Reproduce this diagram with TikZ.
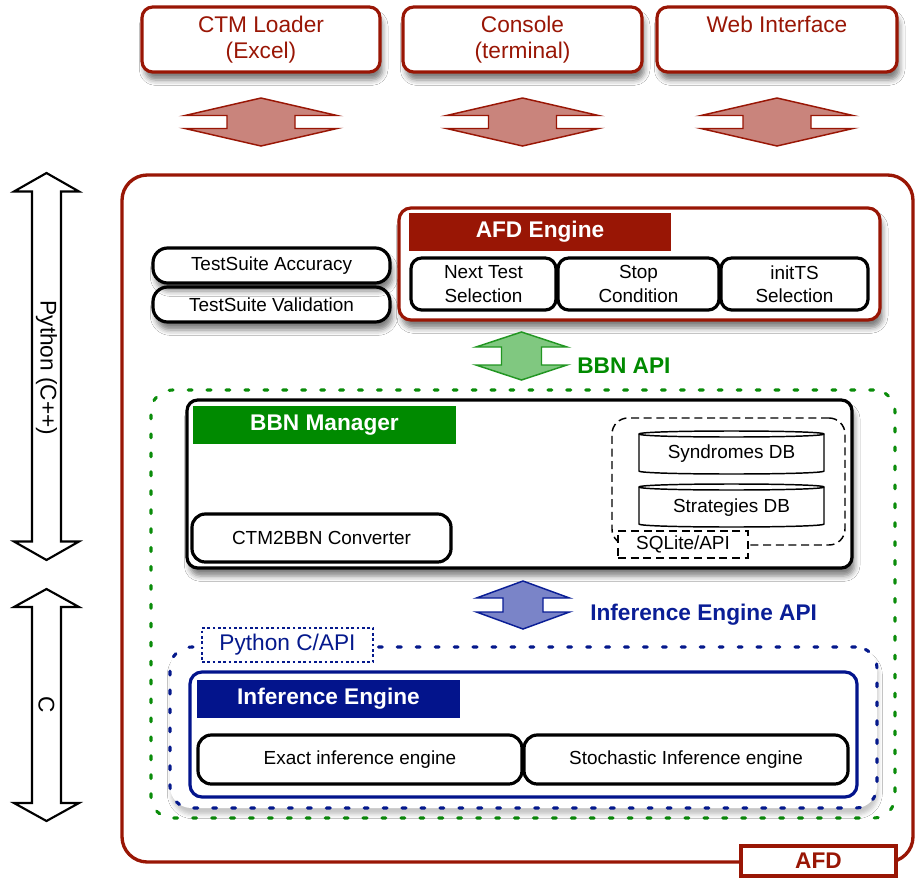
\documentclass[tikz,border=0pt]{standalone}
\usepackage{fontspec}
\setmainfont{Liberation Sans}
\usetikzlibrary{shadows.blur}

\definecolor{afdred}{RGB}{153,22,5}
\definecolor{redfill}{RGB}{201,132,124}
\definecolor{bbngreen}{RGB}{0,138,0}
\definecolor{greenfill}{RGB}{128,200,128}
\definecolor{greenline}{RGB}{34,150,34}
\definecolor{dotgreen}{RGB}{10,140,10}
\definecolor{ieblue}{RGB}{3,20,140}
\definecolor{ieapi}{RGB}{10,30,150}
\definecolor{bluefill}{RGB}{122,132,200}
\definecolor{dotblue}{RGB}{5,25,140}

\newcommand\bigtxt{\fontsize{17}{20}\selectfont}
\newcommand\smalltxt{\fontsize{14.2}{17.5}\selectfont}
% vertical double arrow: [style]{centre}{head half width}{shaft half width}{tip}{head base}
\newcommand\vdarrow[6][]{\draw[#1,shift={(#2)}] (0,-#5) -- (#3,-#6) -- (#4,-#6) -- (#4,#6) -- (#3,#6) -- (0,#5) -- (-#3,#6) -- (-#4,#6) -- (-#4,-#6) -- (-#3,-#6) -- cycle;}
% box node spanning two corners: [style]{name}{x1}{y1}{x2}{y2}{text}
\newcommand\blk[7][]{%
  \pgfmathsetmacro\blkcx{(#3+#5)/2}%
  \pgfmathsetmacro\blkcy{(#4+#6)/2}%
  \node[inner sep=0pt, #1, minimum width={(#5-#3)*0.75pt}, minimum height={(#6-#4)*0.75pt}] (#2) at (\blkcx,\blkcy) {#7};}

\begin{document}
\begin{tikzpicture}[x=0.75pt,y=-0.75pt,
  shadowed/.style={blur shadow={shadow xshift=2pt, shadow yshift=-6pt, shadow blur radius=4pt, shadow opacity=50}},
  softshadow/.style={blur shadow={shadow xshift=1pt, shadow yshift=-5pt, shadow blur radius=3pt, shadow opacity=22}},
  box/.style={draw, line width=2.4pt, fill=white, rounded corners=8pt, align=center},
  topbox/.style={box, draw=afdred, text=afdred, font=\bigtxt, shadowed},
  blackbox/.style={box, draw=black, font=\smalltxt},
  header/.style={fill=#1, text=white, font=\bigtxt\bfseries},
  apilabel/.style={anchor=west, font=\bigtxt\bfseries, inner sep=0pt},
  dotframe/.style={draw=#1, line width=2.3pt, line cap=round, dash pattern=on 3pt off 11.2pt, rounded corners=16pt},
  dashframe/.style={draw, line width=1.1pt, dash pattern=on 6pt off 3.5pt},
  apiarrow/.style={line width=1.1pt},
  sidearrow/.style={draw=black, fill=white, line width=1.6pt}]

\path[fill=white] (0,0) rectangle (915,879);
\useasboundingbox (0,0) rectangle (915,879);

% outer AFD frame
\blk[draw=afdred, line width=2.5pt, rounded corners=19pt]{afd}{122}{175}{913}{862}{}

% front ends
\blk[topbox]{ctm}{142}{7}{380}{72}{CTM Loader\\(Excel)}
\blk[topbox]{console}{403}{7}{642}{72}{Console\\(terminal)}
\blk[topbox]{web}{657}{7}{897}{72}{Web Interface\\\phantom{(Excel)}}
\vdarrow[apiarrow, draw=afdred, fill=redfill]{261,122}{76}{34}{24}{6.5}
\vdarrow[apiarrow, draw=afdred, fill=redfill]{522.5,122}{76}{34}{24}{6.5}
\vdarrow[apiarrow, draw=afdred, fill=redfill]{777,122}{76}{34}{24}{6.5}

% language layers
\vdarrow[sidearrow]{46.5,366.5}{32.5}{14.5}{193.5}{175}
\node[rotate=-90, font=\bigtxt] (pylabel) at (46.5,368) {Python (C++)};
\vdarrow[sidearrow]{46.5,705}{32.5}{14.5}{116}{98}
\node[rotate=-90, font=\bigtxt] (clabel) at (46.5,705) {C};

% test suites
\blk[blackbox, shadowed, rounded corners=11pt]{val}{153}{287}{390}{322}{TestSuite Validation}
\blk[blackbox, shadowed, rounded corners=11pt]{acc}{153}{248}{390}{283}{TestSuite Accuracy}

% AFD engine
\blk[box, draw=afdred, rounded corners=9pt, shadowed]{engine}{399}{208}{880}{320}{}
\blk[header=afdred]{enginehdr}{409}{213}{671}{251}{AFD Engine}
\blk[blackbox]{nts}{411}{258}{556}{310}{Next Test\\Selection}
\blk[blackbox]{stop}{558}{258}{719}{310}{Stop\\Condition}
\blk[blackbox]{init}{721}{258}{868}{310}{initTS\\Selection}

% BBN API
\vdarrow[apiarrow, draw=greenline, fill=greenfill]{521.5,356}{45.5}{20}{24}{9}
\node[apilabel, text=bbngreen] (bbnapi) at (577,366) {BBN API};

% BBN zone
\blk[dotframe=dotgreen]{bbnzone}{151}{390}{895}{818}{}
\blk[box, shadowed, rounded corners=8pt]{mgr}{187}{400}{852}{568}{}
\blk[header=bbngreen]{mgrhdr}{193}{406}{456}{444}{BBN Manager}
\blk[blackbox, rounded corners=10pt]{conv}{192}{514}{451}{562}{CTM2BBN Converter}

% databases
\blk[dashframe, rounded corners=12pt]{dbzone}{612}{418}{845}{545}{}
\draw[line width=1.1pt, fill=white] (639,434) -- (639,471) .. controls (639,475) and (824,475) .. (824,471) -- (824,434) .. controls (824,430) and (639,430) .. (639,434) -- cycle;
\draw[line width=1.1pt] (639,434) .. controls (639,438) and (824,438) .. (824,434);
\node[font=\smalltxt] (syn) at (731.5,454) {Syndromes DB};
\draw[line width=1.1pt, fill=white] (639,487) -- (639,524) .. controls (639,528) and (824,528) .. (824,524) -- (824,487) .. controls (824,483) and (639,483) .. (639,487) -- cycle;
\draw[line width=1.1pt] (639,487) .. controls (639,491) and (824,491) .. (824,487);
\node[font=\smalltxt] (strat) at (731.5,508) {Strategies DB};
\blk[dashframe, fill=white, font=\smalltxt]{sqlapi}{618}{531}{748}{558}{SQLite/API}

% Inference Engine API
\vdarrow[apiarrow, draw=ieapi, fill=bluefill]{523,605}{46.5}{20}{24}{7}
\node[apilabel, text=ieapi] (ieapilabel) at (590,615) {Inference Engine API};

% C layer
\blk[dotframe=dotblue, fill=white, softshadow]{pyzone}{170}{647}{877}{808}{}
\blk[draw=dotblue, fill=white, line width=1pt, dash pattern=on 2pt off 2pt, text=dotblue, font=\bigtxt]{capi}{202}{628}{373}{662}{Python C/API}
\blk[box, draw=ieblue, rounded corners=9pt]{ie}{190}{672}{857}{797}{}
\blk[header=ieblue]{iehdr}{197}{680}{460}{718}{Inference Engine}
\blk[blackbox, rounded corners=10pt]{exact}{198}{735}{522}{784}{Exact inference engine}
\blk[blackbox, rounded corners=10pt]{stoch}{524}{735}{848}{784}{Stochastic Inference engine}

% frame tag
\blk[draw=afdred, fill=white, line width=2.4pt, text=afdred, font=\bigtxt\bfseries]{afdtag}{741}{846}{896}{876}{AFD}
\end{tikzpicture}
\end{document}
